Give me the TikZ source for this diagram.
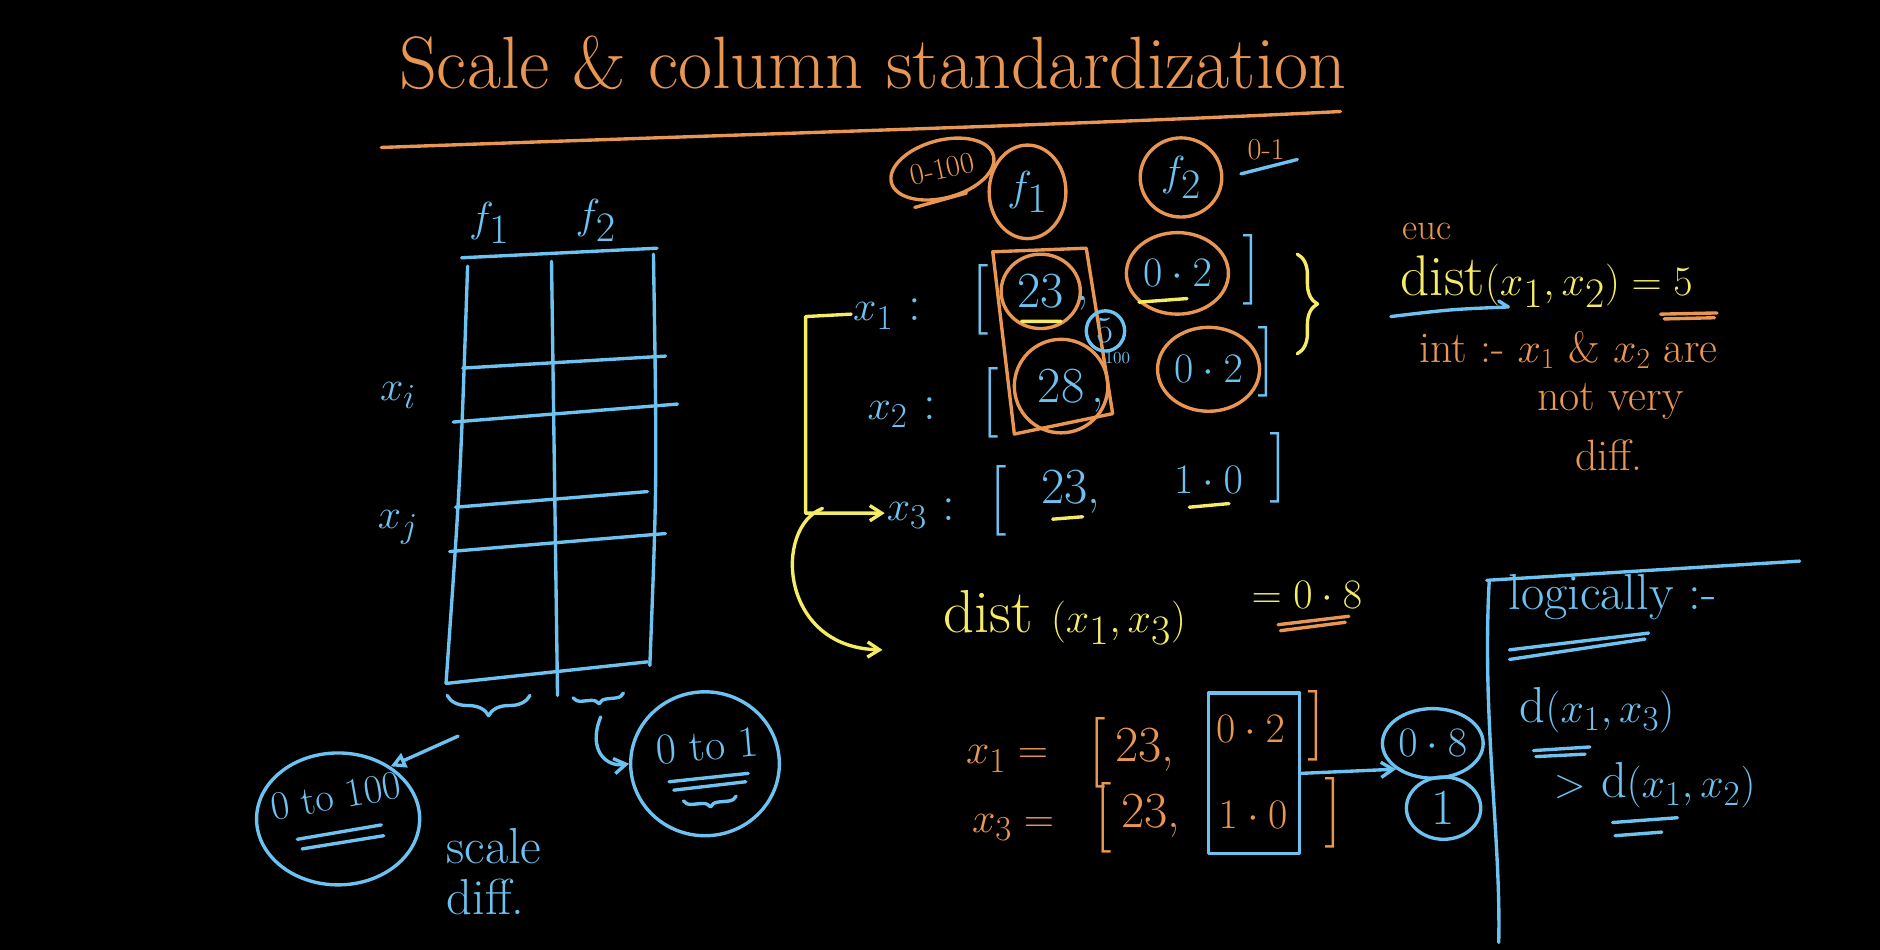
\documentclass[tikz,border=0pt]{standalone}
\usetikzlibrary{shapes.geometric,arrows.meta,decorations.pathreplacing,positioning}

\definecolor{chalkorange}{RGB}{233,150,82}
\definecolor{chalkblue}{RGB}{108,194,240}
\definecolor{chalkyellow}{RGB}{245,236,100}

\tikzset{
  ink/.style={line width=2pt,line cap=round,line join=round},
  word/.style={inner sep=1pt,font=\fontsize{30}{34}\selectfont},
  small/.style={inner sep=1pt,font=\fontsize{18}{20}\selectfont},
  brk/.style={inner sep=0pt,font=\fontsize{42}{44}\selectfont},
  ring/.style={ellipse,draw=chalkorange,ink,inner sep=0pt},
  bring/.style={ellipse,draw=chalkblue,ink,inner sep=0pt},
  curly/.style={decorate,decoration={brace,mirror,amplitude=#1}},
  curly/.default=8pt,
  barb/.style={-{Straight Barb[length=7pt,width=9pt]}}
}

\begin{document}
\begin{tikzpicture}[x=0.025cm,y=-0.025cm]
  \fill[black] (0,0) rectangle (1568,792);
  \useasboundingbox (0,0) rectangle (1568,792);

  % title
  \node[word,text=chalkorange,font=\fontsize{44}{48}\selectfont] (title) at (728,52) {Scale \& column standardization};
  \draw[ink,chalkorange] (318,123) .. controls (620,112) and (900,104) .. (1118,93);

  % left table
  \begin{scope}[ink,chalkblue]
    \draw (385,215) -- (548,207);
    \draw (390,222) .. controls (384,400) .. (372,570);
    \draw (460,218) -- (465,580);
    \draw (545,212) .. controls (548,400) .. (542,555);
    \draw (386,307) -- (555,297);
    \draw (378,352) -- (565,337);
    \draw (380,423) -- (540,410);
    \draw (375,460) -- (555,445);
    \draw (372,570) -- (540,552);
    \draw[curly=12pt] (373,580) -- (442,580);
    \draw[curly=5pt] (478,582) -- (520,578);
  \end{scope}
  \node[word,text=chalkblue,font=\fontsize{36}{40}\selectfont] (f1) at (408,186) {$f_1$};
  \node[word,text=chalkblue,font=\fontsize{36}{40}\selectfont] (f2) at (497,184) {$f_2$};
  \node[word,text=chalkblue] (xi) at (332,330) {$x_i$};
  \node[word,text=chalkblue] (xj) at (332,440) {$x_j$};

  % ranges of the two columns
  \node[bring,minimum width=3.4cm,minimum height=2.75cm] (r100) at (282,683) {};
  \node[word,text=chalkblue,rotate=10,font=\fontsize{24}{26}\selectfont] (t100) at (280,664) {0 to 100};
  \draw[ink,chalkblue] (248,700) -- (318,688) (252,708) -- (320,697);
  \coordinate (ba) at (382,614);
  \draw[ink,chalkblue,-{Triangle[open,length=9pt,width=9pt]}] (ba) -- (r100.45);

  \node[bring,minimum width=3.1cm,minimum height=3cm] (r1) at (588,637) {};
  \node[word,text=chalkblue,rotate=5,font=\fontsize{26}{28}\selectfont] (t1) at (590,622) {0 to 1};
  \draw[ink,chalkblue] (558,652) -- (624,645) (562,659) -- (622,652);
  \draw[ink,chalkblue,curly=5pt] (570,668) -- (614,664);
  \coordinate (bb) at (501,598);
  \draw[ink,chalkblue,barb] (bb) .. controls (490,625) and (505,640) .. (r1.west);

  \node[word,text=chalkblue] (sc) at (412,706) {scale};
  \node[word,text=chalkblue] (df) at (405,748) {diff.};

  % feature heads
  \node[ring,rotate=15,minimum width=2.2cm,minimum height=1.2cm] (e100) at (786,141) {};
  \node[small,text=chalkorange,rotate=12] (t0100) at (786,141) {0-100};
  \draw[ink,chalkorange] (763,173) -- (806,161);
  \node[ring,text=chalkblue,font=\fontsize{34}{36}\selectfont,minimum width=1.6cm,minimum height=1.95cm] (cf1) at (857,160) {$f_1$};
  \node[ring,text=chalkblue,font=\fontsize{34}{36}\selectfont,minimum width=1.7cm,minimum height=1.65cm] (cf2) at (985,148) {$f_2$};
  \node[small,text=chalkorange] (r01) at (1056,125) {0-1};
  \draw[ink,chalkblue] (1035,145) -- (1082,133);

  % rows x1, x2, x3
  \node[word,text=chalkblue] (x1) at (740,262) {$x_1$ :};
  \node[brk,text=chalkblue] (lb1) at (818,250) {[};
  \node[ring,word,text=chalkblue,minimum width=1.65cm,minimum height=1.55cm] (c23) at (868,243) {23};
  \node[word,text=chalkblue] (cm1) at (903,253) {,};
  \node[ring,word,text=chalkblue,minimum width=2.05cm,minimum height=1.7cm] (c02a) at (982,228) {$0\cdot2$};
  \node[brk,text=chalkblue] (rb1) at (1044,225) {]};
  \draw[ink,chalkyellow] (852,268) -- (885,268) (950,252) -- (990,249);

  \node[word,text=chalkblue] (x2) at (752,344) {$x_2$ :};
  \node[brk,text=chalkblue] (lb2) at (826,336) {[};
  \node[ring,word,text=chalkblue,minimum width=1.95cm,minimum height=1.95cm] (c28) at (885,322) {28};
  \node[word,text=chalkblue] (cm2) at (916,338) {,};
  \node[ring,word,text=chalkblue,minimum width=2.1cm,minimum height=1.75cm] (c02b) at (1008,308) {$0\cdot2$};
  \node[brk,text=chalkblue] (rb2) at (1056,302) {]};

  \draw[ink,chalkorange] (828,210) -- (906,207) -- (928,345) -- (846,362) -- cycle;
  \node[bring,word,text=chalkblue,font=\fontsize{22}{24}\selectfont,minimum size=0.8cm] (c5) at (922,276) {5};
  \node[inner sep=0pt,text=chalkblue,font=\fontsize{10}{11}\selectfont] (h100) at (932,299) {100};

  \node[word,text=chalkblue] (x3) at (768,428) {$x_3$ :};
  \node[brk,text=chalkblue] (lb3) at (833,418) {[};
  \node[word,text=chalkblue] (v23) at (893,410) {23,};
  \node[word,text=chalkblue] (v10) at (1008,400) {$1\cdot0$};
  \node[brk,text=chalkblue] (rb3) at (1066,390) {]};
  \draw[ink,chalkyellow] (878,433) -- (903,431) (992,423) -- (1025,420);

  \draw[ink,chalkyellow,decorate,decoration={brace,amplitude=12pt}] (1082,212) -- (1082,295);

  % x1 compared with x3
  \draw[ink,chalkyellow,barb] (x1.west) -- ++(-38,2) |- (x3.west);
  \coordinate (yc) at (686,424);
  \coordinate (ye) at (736,542);
  \draw[ink,chalkyellow,barb] (yc) .. controls (645,440) and (650,540) .. (ye);
  \node[word,text=chalkyellow,font=\fontsize{36}{40}\selectfont] (d13) at (888,515) {dist $(x_1,x_3)$};
  \node[word,text=chalkyellow,font=\fontsize{34}{38}\selectfont] (eq13) at (1090,496) {$=0\cdot8$};
  \draw[ink,chalkorange] (1066,521) -- (1125,514) (1068,526) -- (1122,519);

  % euclidean distance of x1, x2
  \node[word,text=chalkorange,font=\fontsize{22}{24}\selectfont] (euc) at (1190,193) {euc};
  \node[word,text=chalkyellow,font=\fontsize{34}{38}\selectfont] (d12) at (1290,235) {dist$(x_1,x_2)=5$};
  \draw[ink,chalkblue] (1160,264) .. controls (1210,258) .. (1258,256) -- (1250,251);
  \draw[ink,chalkorange] (1385,262) -- (1432,261) (1388,266) -- (1430,265);
  \node[word,text=chalkorange,font=\fontsize{26}{28}\selectfont] (intp) at (1308,292) {int :- $x_1$ \& $x_2$ are};
  \node[word,text=chalkorange,font=\fontsize{26}{28}\selectfont] (nv) at (1343,335) {not very};
  \node[word,text=chalkorange,font=\fontsize{26}{28}\selectfont] (nd) at (1342,380) {diff.};

  % logically
  \draw[ink,chalkblue] (1240,484) -- (1501,468);
  \draw[ink,chalkblue] (1242,486) .. controls (1236,600) and (1252,700) .. (1250,786);
  \node[word,text=chalkblue] (lg) at (1345,498) {logically :-};
  \draw[ink,chalkblue] (1259,542) -- (1375,528) (1259,550) -- (1372,533);
  \node[word,text=chalkblue] (d13b) at (1332,592) {d$(x_1,x_3)$};
  \draw[ink,chalkblue] (1279,626) -- (1326,623) (1281,631) -- (1322,629);
  \node[word,text=chalkblue] (d12b) at (1380,655) {$>$ d$(x_1,x_2)$};
  \draw[ink,chalkblue] (1345,686) -- (1399,682) (1347,697) -- (1386,694);

  % second feature only
  \node[word,text=chalkorange] (y1) at (840,633) {$x_1 =$};
  \node[brk,text=chalkorange] (lb4) at (915,628) {[};
  \node[word,text=chalkorange] (y1a) at (955,625) {23,};
  \node[word,text=chalkorange] (y1b) at (1043,608) {$0\cdot2$};
  \node[brk,text=chalkorange] (rb4) at (1098,605) {]};
  \node[word,text=chalkorange] (y3) at (845,690) {$x_3 =$};
  \node[brk,text=chalkorange] (lb5) at (920,682) {[};
  \node[word,text=chalkorange] (y3a) at (960,680) {23,};
  \node[word,text=chalkorange] (y3b) at (1045,680) {$1\cdot0$};
  \node[brk,text=chalkorange] (rb5) at (1112,678) {]};
  \node[draw=chalkblue,ink,minimum width=1.9cm,minimum height=3.35cm] (bx) at (1046,645) {};
  \node[bring,text=chalkblue,font=\fontsize{24}{26}\selectfont,minimum width=2.1cm,minimum height=1.45cm] (c08) at (1195,620) {$0\cdot8$};
  \node[bring,word,text=chalkblue,minimum width=1.55cm,minimum height=1.3cm] (c1) at (1204,674) {1};
  \draw[ink,chalkblue,barb] (bx.east) -- (c08.south west);
\end{tikzpicture}
\end{document}
